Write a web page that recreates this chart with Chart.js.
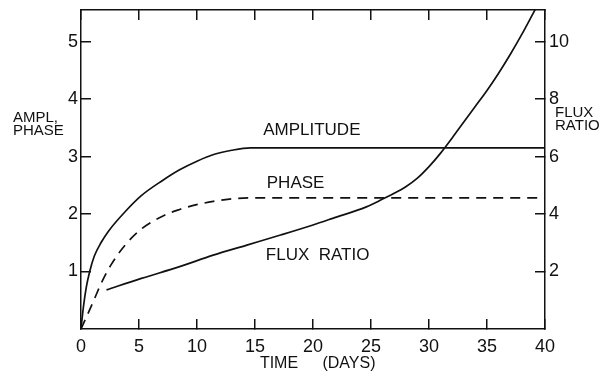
<!DOCTYPE html>
<html>
<head>
<meta charset="utf-8">
<script src="https://cdn.jsdelivr.net/npm/chart.js@4/dist/chart.umd.min.js"></script>
<style>
  html, body { margin: 0; padding: 0; background: #fff; }
  #wrap { width: 615px; height: 374px; position: relative; }
</style>
</head>
<body>
<div id="wrap"><canvas id="fig"></canvas></div>
<script>
// values (time in days)
const amplitudeX = [0, 0.2, 0.45, 0.75, 1.15, 1.72, 2.4, 3.8, 5.2, 7.0, 8.5, 10.0, 11.5, 13.0, 14.6, 16.0, 40];
const amplitudeY = [0, 0.37, 0.72, 1.0, 1.27, 1.5, 1.71, 2.04, 2.32, 2.58, 2.77, 2.92, 3.04, 3.11, 3.15, 3.15, 3.15];

const phaseX = [0, 1.0, 1.8, 2.6, 3.8, 5.2, 7.2, 8.5, 9.7, 11.4, 12.8, 14.5, 40];
const phaseY = [0, 0.45, 0.82, 1.12, 1.46, 1.74, 1.98, 2.08, 2.15, 2.22, 2.26, 2.28, 2.28];

const fluxX = [2.2, 5.2, 8.5, 11.4, 14.3, 17.2, 20.0, 21.7, 24.6, 26.0, 27, 28, 29, 30, 31, 32, 33, 34, 35, 36, 37, 38, 39, 39.4];
const fluxY = [1.36, 1.76, 2.17, 2.57, 2.92, 3.27, 3.62, 3.85, 4.25, 4.52, 4.72, 4.95, 5.25, 5.65, 6.12, 6.65, 7.2, 7.75, 8.3, 8.9, 9.55, 10.25, 11.0, 11.3];

const timeTicks = [0, 5, 10, 15, 20, 25, 30, 35, 40];
const leftTicks = [1, 2, 3, 4, 5];
const rightTicks = [2, 4, 6, 8, 10];

// curve labels, in data units (left axis)
const curveLabels = ["AMPLITUDE", "PHASE", "FLUX  RATIO"];
const curveLabelX = [19.9, 18.5, 20.4];
const curveLabelY = [3.46, 2.54, 1.29];

const INK = '#111';
const FONT = '"Liberation Sans", Arial, sans-serif';

const toPts = (xs, ys) => xs.map((x, i) => ({ x: x, y: ys[i] }));

const textPlugin = {
    id: 'figText',
    afterDraw(chart) {
        const c = chart.ctx, a = chart.chartArea;
        const sx = chart.scales.x, sy = chart.scales.y;
        c.save();
        c.fillStyle = INK;
        c.textBaseline = 'middle';

        // labels next to the curves
        c.font = '17px ' + FONT;
        c.textAlign = 'center';
        curveLabels.forEach((t, i) => {
            c.fillText(t, sx.getPixelForValue(curveLabelX[i]), sy.getPixelForValue(curveLabelY[i]));
        });

        // axis titles
        c.font = '15px ' + FONT;
        c.textAlign = 'left';
        c.fillText('AMPL,', 13, 118);
        c.fillText('PHASE', 13, 131);
        c.fillText('FLUX', a.right + 10, 113);
        c.fillText('RATIO', a.right + 10, 126);
        c.font = '16px ' + FONT;
        c.textAlign = 'center';
        c.fillText('TIME', 279, 364);
        c.fillText('(DAYS)', 349, 364);
        c.restore();
    }
};

const keepTicks = (list) => (scale) => { scale.ticks = list.map(v => ({ value: v })); };
const fixSize = (key, size) => (s) => {
    s[key] = size;
    s.paddingTop = s.paddingBottom = s.paddingLeft = s.paddingRight = 0;
};

const gridOpts = { drawOnChartArea: false, tickLength: -10, color: INK, lineWidth: 1.5 };
const borderOpts = { color: INK, width: 1.5 };
const tickFont = { family: FONT, size: 18 };

new Chart(document.getElementById('fig'), {
    type: 'line',
    data: {
        datasets: [
            { label: 'Amplitude', data: toPts(amplitudeX, amplitudeY), yAxisID: 'y',
              borderColor: INK, borderWidth: 1.7, pointRadius: 0, cubicInterpolationMode: 'monotone' },
            { label: 'Phase', data: toPts(phaseX, phaseY), yAxisID: 'y',
              borderColor: INK, borderWidth: 1.7, borderDash: [10, 7], pointRadius: 0, cubicInterpolationMode: 'monotone' },
            { label: 'Flux ratio', data: toPts(fluxX, fluxY), yAxisID: 'y2',
              borderColor: INK, borderWidth: 1.7, pointRadius: 0, cubicInterpolationMode: 'monotone' }
        ]
    },
    options: {
        responsive: true,
        maintainAspectRatio: false,
        animation: false,
        layout: { padding: 0 },
        plugins: { legend: { display: false }, tooltip: { enabled: false } },
        scales: {
            x: {
                type: 'linear', position: 'bottom', min: 0, max: 40,
                afterBuildTicks: keepTicks(timeTicks),
                ticks: { color: INK, font: tickFont, padding: 17, autoSkip: false, maxRotation: 0 },
                grid: gridOpts, border: borderOpts,
                afterFit: fixSize('height', 45)
            },
            xTop: {
                type: 'linear', position: 'top', min: 0, max: 40,
                afterBuildTicks: keepTicks(timeTicks),
                ticks: { display: false },
                grid: gridOpts, border: borderOpts,
                afterFit: fixSize('height', 10)
            },
            y: {
                type: 'linear', position: 'left', min: 0, max: 5.55,
                afterBuildTicks: keepTicks(leftTicks),
                ticks: { color: INK, font: tickFont, padding: 13 },
                grid: gridOpts, border: borderOpts,
                afterFit: fixSize('width', 81)
            },
            y2: {
                type: 'linear', position: 'right', min: 0, max: 11.1,
                afterBuildTicks: keepTicks(rightTicks),
                ticks: { color: INK, font: tickFont, padding: 14 },
                grid: gridOpts, border: borderOpts,
                afterFit: fixSize('width', 70)
            }
        }
    },
    plugins: [textPlugin]
});
</script>
</body>
</html>
